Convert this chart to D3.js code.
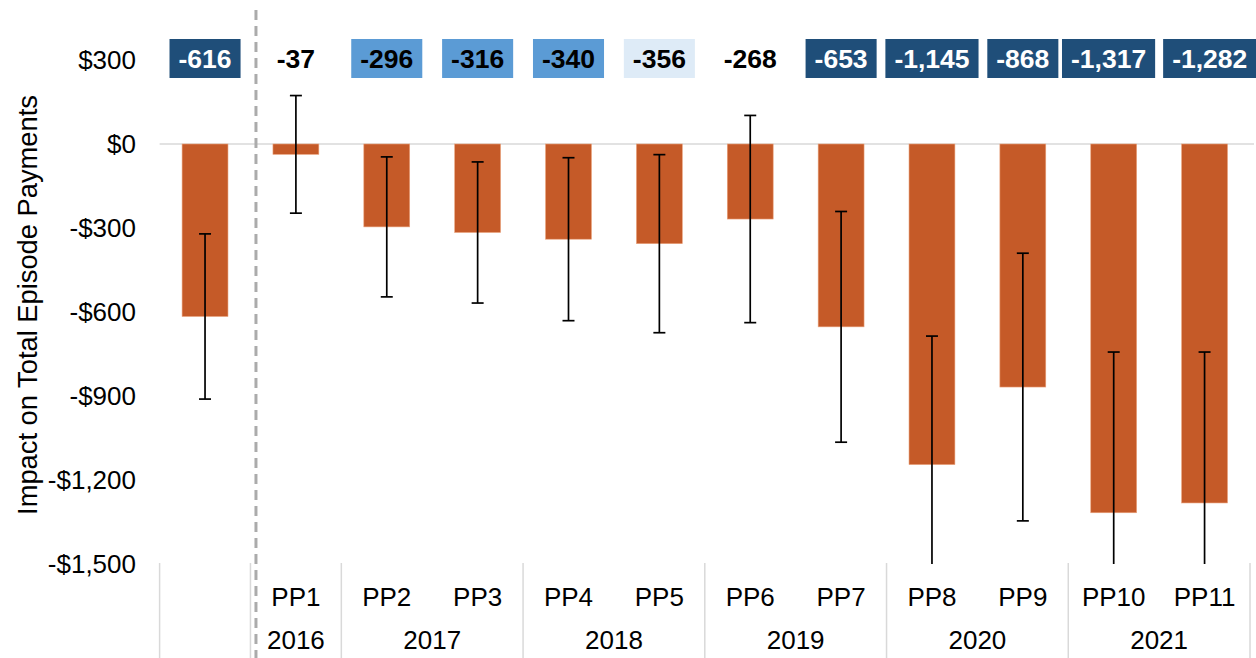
<!DOCTYPE html>
<html>
<head>
<meta charset="utf-8">
<script src="https://cdn.jsdelivr.net/npm/d3@7"></script>
<style>
  html, body { margin: 0; padding: 0; background: #fff; }
  svg { display: block; font-family: "Liberation Sans", Arial, sans-serif; }
</style>
</head>
<body>
<svg id="chart" width="1256" height="658"></svg>
<script>
// Impact estimates on total episode payments, overall and by performance period
const categories = ["Overall", "PP1", "PP2", "PP3", "PP4", "PP5", "PP6", "PP7", "PP8", "PP9", "PP10", "PP11"];
const impact     = [-616, -37, -296, -316, -340, -356, -268, -653, -1145, -868, -1317, -1282];
const ciLower    = [-911, -247, -546, -568, -631, -674, -638, -1065, -1604, -1346, -1891, -1821];
const ciUpper    = [-321, 173, -46, -64, -49, -38, 102, -241, -686, -390, -743, -743];
// significance level of each estimate: "p01", "p05", "p10" or "ns"
const significance = ["p01", "ns", "p05", "p05", "p05", "p10", "ns", "p01", "p01", "p01", "p01", "p01"];
// calendar-year groups under the period labels
const yearLabels = ["2016", "2017", "2018", "2019", "2020", "2021"];
const yearMembers = [["PP1"], ["PP2", "PP3"], ["PP4", "PP5"], ["PP6", "PP7"], ["PP8", "PP9"], ["PP10", "PP11"]];
const yTicks = [300, 0, -300, -600, -900, -1200, -1500];

const sigFill = { p01: "#1f4e79", p05: "#5b9bd5", p10: "#deebf7", ns: "none" };
const sigText = { p01: "#ffffff", p05: "#000000", p10: "#000000", ns: "#000000" };

const svg = d3.select("#chart");
const plotLeft = 159.6, plotRight = 1250, plotTop = 60, plotBottom = 564;

const x = d3.scaleBand().domain(categories).range([plotLeft, plotRight]).paddingInner(0).paddingOuter(0);
const y = d3.scaleLinear().domain([-1500, 300]).range([plotBottom, plotTop]);
const barW = x.bandwidth() * 0.505;
const fmt = d3.format(",");

// y axis tick labels
svg.append("g").selectAll("text").data(yTicks).join("text")
  .attr("x", 136).attr("y", d => y(d)).attr("dy", "0.35em")
  .attr("text-anchor", "end").attr("font-size", 26).attr("fill", "#000")
  .text(d => (d < 0 ? "-$" : "$") + fmt(Math.abs(d)));

// y axis title
svg.append("text")
  .attr("transform", `translate(27,305) rotate(-90)`)
  .attr("text-anchor", "middle").attr("dy", "0.35em")
  .attr("font-size", 27.3).attr("fill", "#000")
  .text("Impact on Total Episode Payments");

// zero line
svg.append("line")
  .attr("x1", plotLeft).attr("x2", 1254).attr("y1", y(0)).attr("y2", y(0))
  .attr("stroke", "#d9d9d9").attr("stroke-width", 1.5);

// bars
svg.append("g").selectAll("rect").data(categories).join("rect")
  .attr("x", d => x(d) + (x.bandwidth() - barW) / 2)
  .attr("width", barW)
  .attr("y", (d, i) => y(Math.max(0, impact[i])))
  .attr("height", (d, i) => Math.abs(y(impact[i]) - y(0)))
  .attr("fill", "#c55a28").attr("stroke", "#eaa27c").attr("stroke-width", 0.6);

// confidence intervals
const eb = svg.append("g").attr("stroke", "#000").attr("stroke-width", 1.7);
const yMin = y.domain()[0];
categories.forEach((c, i) => {
  const cx = x(c) + x.bandwidth() / 2;
  const lo = Math.max(ciLower[i], yMin);
  eb.append("line").attr("x1", cx).attr("x2", cx).attr("y1", y(ciUpper[i])).attr("y2", y(lo));
  eb.append("line").attr("x1", cx - 6).attr("x2", cx + 6).attr("y1", y(ciUpper[i])).attr("y2", y(ciUpper[i]));
  if (ciLower[i] >= yMin) {
    eb.append("line").attr("x1", cx - 6).attr("x2", cx + 6).attr("y1", y(ciLower[i])).attr("y2", y(ciLower[i]));
  }
});

// value labels, boxed by significance level
const labelY = 58.5;
const lg = svg.append("g");
const labels = categories.map((c, i) => {
  const t = lg.append("text")
    .attr("y", labelY).attr("dy", "0.36em")
    .attr("text-anchor", "middle").attr("font-size", 26.5).attr("font-weight", "bold")
    .attr("fill", sigText[significance[i]])
    .text(impact[i] < 0 ? "-" + fmt(Math.abs(impact[i])) : fmt(impact[i]));
  const w = t.node().getComputedTextLength() + 18;
  return { t, i, cx: x(c) + x.bandwidth() / 2, w };
});
// push neighbouring labels apart so boxes keep a small gap
const minGap = 8;
for (let k = 1; k < labels.length; k++) {
  const a = labels[k - 1], b = labels[k];
  const overlap = (a.cx + a.w / 2 + minGap) - (b.cx - b.w / 2);
  if (overlap > 0) { a.cx -= overlap / 2; b.cx += overlap / 2; }
}
labels.forEach(l => {
  l.t.attr("x", l.cx);
  if (sigFill[significance[l.i]] !== "none") {
    lg.insert("rect", "text")
      .attr("x", l.cx - l.w / 2).attr("y", labelY - 19.5)
      .attr("width", l.w).attr("height", 39)
      .attr("fill", sigFill[significance[l.i]]);
  }
});

// category axis: period labels and year groups
const axisTop = 563;
const sepX = [x(categories[0]), x("PP1")];
yearMembers.forEach(m => sepX.push(x(m[m.length - 1]) + x.bandwidth()));
svg.append("g").selectAll("line").data(sepX).join("line")
  .attr("x1", d => d).attr("x2", d => d).attr("y1", axisTop).attr("y2", 658)
  .attr("stroke", "#d9d9d9").attr("stroke-width", 1.5);

svg.append("g").selectAll("text").data(categories.slice(1)).join("text")
  .attr("x", d => x(d) + x.bandwidth() / 2).attr("y", 597).attr("dy", "0.35em")
  .attr("text-anchor", "middle").attr("font-size", 26).attr("fill", "#000")
  .text(d => d);

svg.append("g").selectAll("text").data(yearLabels).join("text")
  .attr("x", (d, i) => {
    const m = yearMembers[i];
    return (x(m[0]) + x(m[m.length - 1]) + x.bandwidth()) / 2;
  })
  .attr("y", 640).attr("dy", "0.35em")
  .attr("text-anchor", "middle").attr("font-size", 26).attr("fill", "#000")
  .text(d => d);

// dashed divider between the overall estimate and the period estimates
const divX = x("PP1") + 5.5;
svg.append("line")
  .attr("x1", divX).attr("x2", divX).attr("y1", 10).attr("y2", 658)
  .attr("stroke", "#ababab").attr("stroke-width", 3).attr("stroke-dasharray", "10,6");
</script>
</body>
</html>
